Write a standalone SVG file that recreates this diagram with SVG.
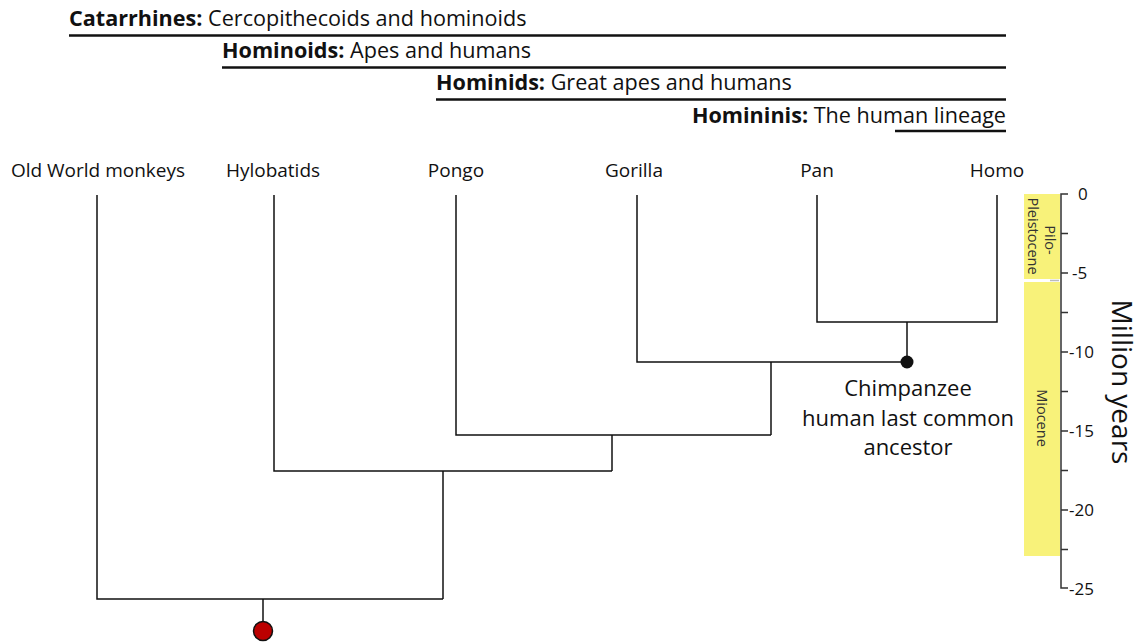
<svg xmlns="http://www.w3.org/2000/svg" width="1141" height="642" viewBox="0 0 1141 642">
  <style>
    text { font-family: "Open Sans", "Noto Sans", "Liberation Sans", sans-serif; fill: #111; }
    .hdr { font-size: 21.6px; }
    .hdr tspan.b { font-weight: bold; }
    .rule { stroke: #111; stroke-width: 2.5; fill: none; }
    .taxon { font-size: 19px; text-anchor: middle; }
    .note { font-size: 22px; text-anchor: middle; }
    .branch { stroke: #111; stroke-width: 1.5; fill: none; }
    .axis { stroke: #333; stroke-width: 1.5; fill: none; }
    .tick { font-size: 17px; }
    .epoch { fill: #f8f27a; }
    .epochlbl { font-size: 14.5px; text-anchor: middle; fill: #333; }
  </style>

  <!-- Clade headings with their spans -->
  <g id="catarrhines">
    <text class="hdr" x="69" y="26"><tspan class="b">Catarrhines:</tspan> Cercopithecoids and hominoids</text>
    <line class="rule" x1="69" y1="35.5" x2="1006" y2="35.5"/>
  </g>
  <g id="hominoids">
    <text class="hdr" x="222" y="58"><tspan class="b">Hominoids:</tspan> Apes and humans</text>
    <line class="rule" x1="222" y1="67.5" x2="1006" y2="67.5"/>
  </g>
  <g id="hominids">
    <text class="hdr" x="436" y="90"><tspan class="b">Hominids:</tspan> Great apes and humans</text>
    <line class="rule" x1="436" y1="99.5" x2="1006" y2="99.5"/>
  </g>
  <g id="homininis">
    <text class="hdr" x="1006" y="123" text-anchor="end"><tspan class="b">Homininis:</tspan> The human lineage</text>
    <line class="rule" x1="895" y1="131" x2="1006" y2="131"/>
  </g>

  <!-- Tip labels -->
  <g id="old-world-monkeys"><text class="taxon" x="98" y="177">Old World monkeys</text></g>
  <g id="hylobatids"><text class="taxon" x="273" y="177">Hylobatids</text></g>
  <g id="pongo"><text class="taxon" x="456" y="177">Pongo</text></g>
  <g id="gorilla"><text class="taxon" x="634" y="177">Gorilla</text></g>
  <g id="pan"><text class="taxon" x="817" y="177">Pan</text></g>
  <g id="homo"><text class="taxon" x="997" y="177">Homo</text></g>

  <!-- Tree branches -->
  <g id="connectors">
    <path class="branch" d="M817,195 V322 H997 V195"/>
    <path class="branch" d="M907,322 V362"/>
    <path class="branch" d="M637,195 V362 H907"/>
    <path class="branch" d="M771,362 V435"/>
    <path class="branch" d="M456,195 V435 H771"/>
    <path class="branch" d="M612,435 V471"/>
    <path class="branch" d="M274,195 V471 H612"/>
    <path class="branch" d="M443,471 V599"/>
    <path class="branch" d="M97,195 V599 H443"/>
    <path class="branch" d="M263,599 V623" stroke-width="2.5"/>
  </g>

  <!-- Chimpanzee-human split -->
  <g id="chlca">
    <circle cx="907" cy="362" r="6.5" fill="#111"/>
    <text class="note" x="908" y="396">Chimpanzee</text>
    <text class="note" x="908" y="426">human last common</text>
    <text class="note" x="908" y="455">ancestor</text>
  </g>

  <!-- Root -->
  <g id="root">
    <circle cx="263" cy="631" r="9.5" fill="#bb0000" stroke="#111" stroke-width="1.5"/>
  </g>

  <!-- Geological time scale -->
  <g id="timescale">
    <rect class="epoch" x="1024" y="194" width="36" height="85"/>
    <rect class="epoch" x="1024" y="282" width="36" height="274"/>
    <line x1="1050" y1="280.5" x2="1059" y2="280.5" stroke="#bbb" stroke-width="1.5"/>
    <text class="epochlbl" transform="translate(1045,240) rotate(90)">Pilo-</text>
    <text class="epochlbl" transform="translate(1028,236) rotate(90)">Pleistocene</text>
    <text class="epochlbl" transform="translate(1037,418) rotate(90)">Miocene</text>

    <path class="axis" d="M1068,194 H1061 V588 H1068"/>
    <path class="axis" d="M1061,233.5 H1068 M1061,273 H1068 M1061,312.5 H1068 M1061,352 H1068 M1061,391.5 H1068 M1061,431 H1068 M1061,470.5 H1068 M1061,510 H1068 M1061,549.5 H1068"/>
    <text class="tick" x="1078" y="200">0</text>
    <text class="tick" x="1072" y="279">-5</text>
    <text class="tick" x="1069" y="358">-10</text>
    <text class="tick" x="1069" y="437">-15</text>
    <text class="tick" x="1069" y="516">-20</text>
    <text class="tick" x="1069" y="595">-25</text>
    <text transform="translate(1112,382) rotate(90)" text-anchor="middle" style="font-size:28px">Million years</text>
  </g>
</svg>
